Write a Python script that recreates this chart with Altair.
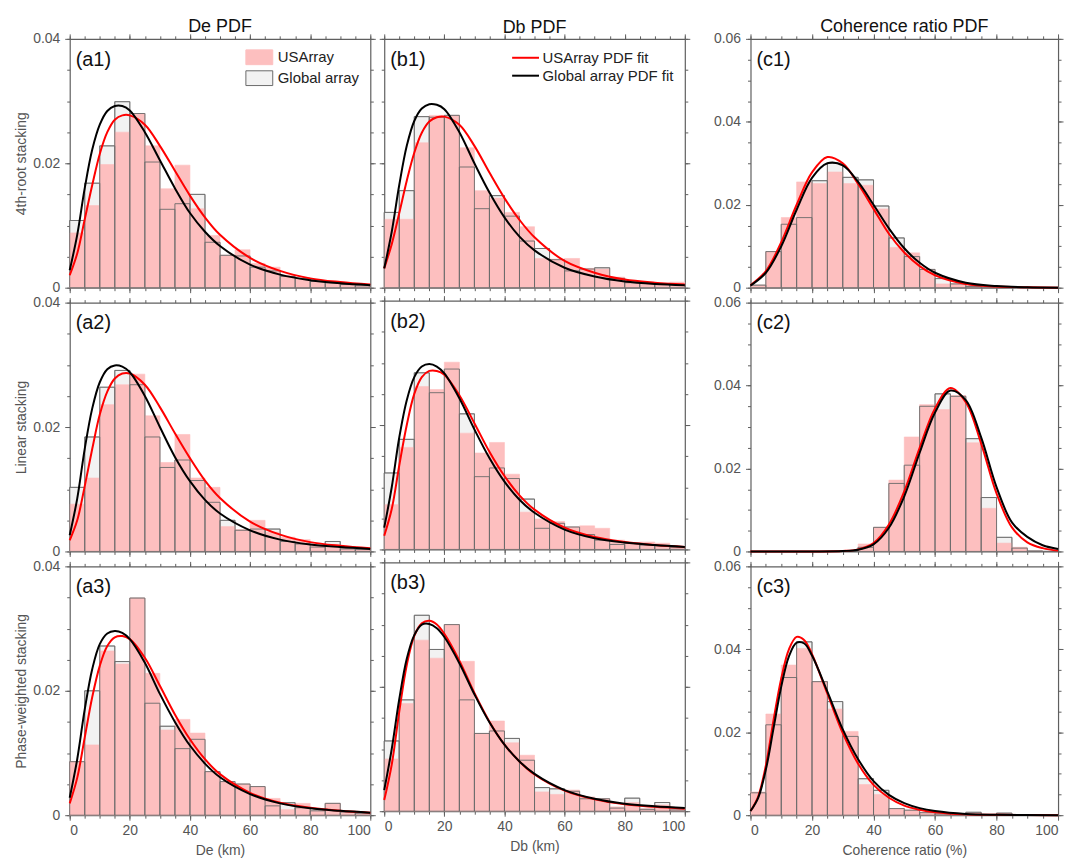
import altair as alt
import pandas as pd

# ---------------- data ----------------
BIN_EDGES = list(range(0, 105, 5))
SERIES_HIST = ["USArray", "Global array"]
SERIES_FIT = ["USArray PDF fit", "Global array PDF fit"]
COL_TITLES = ["De PDF", "Db PDF", "Coherence ratio PDF"]
X_TITLES = ["De (km)", "Db (km)", "Coherence ratio (%)"]
ROW_TITLES = ["4th-root stacking", "Linear stacking", "Phase-weighted stacking"]
PANEL_LABELS = [["(a1)", "(b1)", "(c1)"], ["(a2)", "(b2)", "(c2)"], ["(a3)", "(b3)", "(c3)"]]
X_MAJOR = [0, 20, 40, 60, 80, 100]
X_MINOR = list(range(0, 105, 5))
Y_MAJOR_AB = [0, 0.02, 0.04]
Y_MAJOR_C = [0, 0.02, 0.04, 0.06]
Y_MAX = [0.04, 0.04, 0.06]

# histograms (20 bins of width 5)
A1_US = [0.0088, 0.0132, 0.0198, 0.0250, 0.0280, 0.0228, 0.0159, 0.0197, 0.0127, 0.0084, 0.0052, 0.0061, 0.0039, 0.0033, 0.0020, 0.0015, 0.0011, 0.0008, 0.0006, 0.0004]
A1_GL = [0.0108, 0.0168, 0.0228, 0.0299, 0.0280, 0.0202, 0.0126, 0.0135, 0.0150, 0.0073, 0.0052, 0.0051, 0.0033, 0.0027, 0.0018, 0.0015, 0.0010, 0.0008, 0.0005, 0.0003]
B1_US = [0.0110, 0.0110, 0.0233, 0.0277, 0.0277, 0.0225, 0.0156, 0.0144, 0.0121, 0.0098, 0.0047, 0.0046, 0.0047, 0.0031, 0.0030, 0.0017, 0.0010, 0.0009, 0.0008, 0.0009]
B1_GL = [0.0121, 0.0156, 0.0275, 0.0274, 0.0277, 0.0194, 0.0127, 0.0148, 0.0115, 0.0075, 0.0063, 0.0045, 0.0027, 0.0030, 0.0032, 0.0015, 0.0008, 0.0007, 0.0006, 0.0005]
C1_US = [0.0006, 0.0087, 0.0169, 0.0255, 0.0251, 0.0279, 0.0251, 0.0247, 0.0190, 0.0097, 0.0084, 0.0044, 0.0009, 0.0009, 0.0003, 0.0002, 0.0001, 0.0001, 0.0001, 0.0001]
C1_GL = [0.0006, 0.0087, 0.0153, 0.0169, 0.0258, 0.0300, 0.0266, 0.0260, 0.0197, 0.0120, 0.0075, 0.0044, 0.0022, 0.0009, 0.0003, 0.0002, 0.0001, 0.0001, 0.0001, 0.0001]
A2_US = [0.0076, 0.0118, 0.0236, 0.0268, 0.0285, 0.0218, 0.0143, 0.0188, 0.0118, 0.0103, 0.0040, 0.0035, 0.0050, 0.0031, 0.0023, 0.0019, 0.0010, 0.0011, 0.0004, 0.0004]
A2_GL = [0.0103, 0.0184, 0.0264, 0.0291, 0.0268, 0.0184, 0.0135, 0.0147, 0.0114, 0.0079, 0.0050, 0.0034, 0.0036, 0.0036, 0.0016, 0.0012, 0.0007, 0.0016, 0.0004, 0.0003]
B2_US = [0.0072, 0.0164, 0.0262, 0.0257, 0.0301, 0.0187, 0.0155, 0.0172, 0.0121, 0.0060, 0.0049, 0.0045, 0.0036, 0.0038, 0.0034, 0.0015, 0.0010, 0.0012, 0.0010, 0.0004]
B2_GL = [0.0123, 0.0177, 0.0284, 0.0252, 0.0290, 0.0218, 0.0117, 0.0131, 0.0114, 0.0081, 0.0034, 0.0042, 0.0036, 0.0024, 0.0015, 0.0008, 0.0010, 0.0007, 0.0006, 0.0003]
C2_US = [0, 0, 0, 0, 0, 0, 0, 0.0018, 0.0058, 0.0172, 0.0276, 0.0354, 0.0342, 0.0376, 0.0262, 0.0104, 0.0020, 0.0010, 0.0001, 0]
C2_GL = [0, 0, 0, 0, 0, 0, 0, 0.0010, 0.0058, 0.0164, 0.0208, 0.0350, 0.0380, 0.0374, 0.0272, 0.0130, 0.0034, 0.0008, 0.0001, 0]
A3_US = [0.0086, 0.0113, 0.0264, 0.0243, 0.0349, 0.0228, 0.0137, 0.0154, 0.0132, 0.0070, 0.0054, 0.0050, 0.0046, 0.0027, 0.0009, 0.0019, 0.0007, 0.0019, 0.0007, 0.0004]
A3_GL = [0.0086, 0.0200, 0.0272, 0.0247, 0.0349, 0.0180, 0.0143, 0.0107, 0.0122, 0.0070, 0.0054, 0.0050, 0.0046, 0.0015, 0.0020, 0.0012, 0.0007, 0.0019, 0.0005, 0.0003]
B3_US = [0.0084, 0.0173, 0.0275, 0.0246, 0.0300, 0.0241, 0.0125, 0.0145, 0.0110, 0.0090, 0.0031, 0.0027, 0.0034, 0.0023, 0.0020, 0.0007, 0.0014, 0.0004, 0.0010, 0.0005]
B3_GL = [0.0113, 0.0179, 0.0315, 0.0260, 0.0300, 0.0179, 0.0125, 0.0129, 0.0117, 0.0082, 0.0038, 0.0036, 0.0032, 0.0020, 0.0020, 0.0005, 0.0021, 0.0003, 0.0014, 0.0002]
C3_US = [0.0056, 0.0244, 0.0362, 0.0402, 0.0322, 0.0256, 0.0202, 0.0074, 0.0050, 0.0016, 0.0012, 0.0006, 0.0003, 0.0003, 0.0005, 0.0001, 0.0003, 0.0001, 0.0001, 0.0000]
C3_GL = [0.0054, 0.0218, 0.0332, 0.0418, 0.0322, 0.0274, 0.0190, 0.0088, 0.0060, 0.0016, 0.0012, 0.0006, 0.0003, 0.0003, 0.0007, 0.0001, 0.0005, 0.0001, 0.0001, 0.0000]

# fitted PDF curves, sampled from the figure
FIT_X_AB = [0, 2.5, 5, 7.5, 10, 12.5, 15, 17.5, 20, 25, 30, 35, 40, 45, 50, 60, 70, 80, 90, 100]
A1_US_FIT = [0.0020, 0.0055, 0.0110, 0.0165, 0.0215, 0.0250, 0.0270, 0.0277, 0.0277, 0.0262, 0.0228, 0.0188, 0.0148, 0.0113, 0.0085, 0.0048, 0.0027, 0.0015, 0.0009, 0.0005]
A1_GL_FIT = [0.0028, 0.0085, 0.0160, 0.0222, 0.0262, 0.0284, 0.0292, 0.0292, 0.0285, 0.0250, 0.0205, 0.0160, 0.0120, 0.0090, 0.0067, 0.0037, 0.0021, 0.0012, 0.0007, 0.0004]
B1_US_FIT = [0.0031, 0.0070, 0.0120, 0.0172, 0.0217, 0.0249, 0.0267, 0.0274, 0.0275, 0.0262, 0.0228, 0.0185, 0.0144, 0.0109, 0.0081, 0.0043, 0.0024, 0.0013, 0.0008, 0.0005]
B1_GL_FIT = [0.0031, 0.0090, 0.0165, 0.0228, 0.0268, 0.0288, 0.0295, 0.0294, 0.0287, 0.0250, 0.0200, 0.0153, 0.0113, 0.0082, 0.0060, 0.0032, 0.0018, 0.0010, 0.0006, 0.0004]
A2_US_FIT = [0.0018, 0.0050, 0.0105, 0.0165, 0.0220, 0.0257, 0.0278, 0.0286, 0.0286, 0.0268, 0.0232, 0.0190, 0.0150, 0.0114, 0.0086, 0.0048, 0.0027, 0.0015, 0.0009, 0.0005]
A2_GL_FIT = [0.0026, 0.0085, 0.0165, 0.0230, 0.0272, 0.0293, 0.0299, 0.0297, 0.0288, 0.0250, 0.0200, 0.0152, 0.0113, 0.0083, 0.0061, 0.0034, 0.0019, 0.0011, 0.0007, 0.0004]
B2_US_FIT = [0.0022, 0.0065, 0.0135, 0.0200, 0.0250, 0.0277, 0.0287, 0.0287, 0.0281, 0.0248, 0.0203, 0.0157, 0.0118, 0.0087, 0.0064, 0.0035, 0.0020, 0.0012, 0.0007, 0.0004]
B2_GL_FIT = [0.0035, 0.0100, 0.0180, 0.0240, 0.0277, 0.0294, 0.0298, 0.0294, 0.0283, 0.0243, 0.0193, 0.0147, 0.0109, 0.0080, 0.0059, 0.0032, 0.0018, 0.0011, 0.0007, 0.0004]
A3_US_FIT = [0.0019, 0.0060, 0.0125, 0.0190, 0.0240, 0.0272, 0.0286, 0.0288, 0.0283, 0.0253, 0.0208, 0.0162, 0.0122, 0.0090, 0.0066, 0.0036, 0.0020, 0.0012, 0.0007, 0.0004]
A3_GL_FIT = [0.0028, 0.0090, 0.0170, 0.0235, 0.0275, 0.0292, 0.0296, 0.0293, 0.0283, 0.0245, 0.0195, 0.0150, 0.0112, 0.0083, 0.0061, 0.0034, 0.0019, 0.0011, 0.0007, 0.0004]
B3_US_FIT = [0.0018, 0.0075, 0.0160, 0.0235, 0.0282, 0.0302, 0.0306, 0.0300, 0.0285, 0.0242, 0.0190, 0.0144, 0.0107, 0.0080, 0.0059, 0.0033, 0.0019, 0.0011, 0.0007, 0.0004]
B3_GL_FIT = [0.0034, 0.0100, 0.0180, 0.0245, 0.0283, 0.0300, 0.0301, 0.0294, 0.0280, 0.0238, 0.0188, 0.0143, 0.0107, 0.0080, 0.0060, 0.0034, 0.0020, 0.0012, 0.0008, 0.0005]

FIT_X_C1 = [0, 5, 10, 15, 20, 25, 30, 35, 40, 45, 50, 55, 60, 70, 80, 90, 100]
C1_US_FIT = [0.0006, 0.0040, 0.0110, 0.0200, 0.0278, 0.0315, 0.0300, 0.0250, 0.0190, 0.0130, 0.0085, 0.0052, 0.0030, 0.0009, 0.0003, 0.0001, 0.0000]
C1_GL_FIT = [0.0005, 0.0036, 0.0100, 0.0188, 0.0265, 0.0300, 0.0295, 0.0255, 0.0200, 0.0143, 0.0095, 0.0060, 0.0036, 0.0012, 0.0004, 0.0001, 0.0000]
FIT_X_C2 = [0, 20, 30, 35, 40, 45, 50, 55, 60, 65, 70, 75, 80, 85, 90, 95, 100]
C2_US_FIT = [0.0000, 0.0000, 0.0001, 0.0005, 0.0020, 0.0065, 0.0145, 0.0250, 0.0345, 0.0394, 0.0360, 0.0260, 0.0140, 0.0058, 0.0022, 0.0008, 0.0002]
C2_GL_FIT = [0.0000, 0.0000, 0.0001, 0.0004, 0.0017, 0.0057, 0.0133, 0.0238, 0.0335, 0.0388, 0.0365, 0.0275, 0.0155, 0.0070, 0.0035, 0.0015, 0.0006]
FIT_X_C3 = [0, 2.5, 5, 7.5, 10, 12.5, 15, 17.5, 20, 25, 30, 35, 40, 45, 50, 55, 60, 70, 80, 100]
C3_US_FIT = [0.0010, 0.0045, 0.0120, 0.0230, 0.0330, 0.0400, 0.0430, 0.0422, 0.0388, 0.0293, 0.0198, 0.0124, 0.0073, 0.0042, 0.0023, 0.0013, 0.0007, 0.0002, 0.0001, 0.0000]
C3_GL_FIT = [0.0010, 0.0042, 0.0110, 0.0210, 0.0310, 0.0383, 0.0416, 0.0414, 0.0385, 0.0298, 0.0207, 0.0135, 0.0082, 0.0049, 0.0029, 0.0017, 0.0010, 0.0003, 0.0001, 0.0000]

HIST = [[(A1_US, A1_GL), (B1_US, B1_GL), (C1_US, C1_GL)],
        [(A2_US, A2_GL), (B2_US, B2_GL), (C2_US, C2_GL)],
        [(A3_US, A3_GL), (B3_US, B3_GL), (C3_US, C3_GL)]]
FITS = [[(FIT_X_AB, A1_US_FIT, A1_GL_FIT), (FIT_X_AB, B1_US_FIT, B1_GL_FIT), (FIT_X_C1, C1_US_FIT, C1_GL_FIT)],
        [(FIT_X_AB, A2_US_FIT, A2_GL_FIT), (FIT_X_AB, B2_US_FIT, B2_GL_FIT), (FIT_X_C2, C2_US_FIT, C2_GL_FIT)],
        [(FIT_X_AB, A3_US_FIT, A3_GL_FIT), (FIT_X_AB, B3_US_FIT, B3_GL_FIT), (FIT_X_C3, C3_US_FIT, C3_GL_FIT)]]

# ---------------- style ----------------
FONT = "Liberation Sans"
PINK = "#fdbfbf"
GL_FILL = "#f2f2f2"
GL_STROKE = "#6a6a6a"
AX = "#5f5f5f"
WIDTHS = [302, 302, 309]
HEIGHT = 250


def panel(row, col):
    us, gl = HIST[row][col]
    fx, us_fit, gl_fit = FITS[row][col]
    ymax = Y_MAX[col]
    y_major = Y_MAJOR_C if col == 2 else Y_MAJOR_AB
    y_minor = [round(i * 0.005, 3) for i in range(int(round(ymax / 0.005)) + 1)]
    bottom = row == 2
    ylabels = col != 1

    rows = []
    for s, vals in (("Global array", gl), ("USArray", us)):
        for i, v in enumerate(vals):
            rows.append({"x0": BIN_EDGES[i], "x1": BIN_EDGES[i + 1], "v": v, "base": 0.0, "series": s})
    bars = pd.DataFrame(rows)
    glbars = bars[bars.series == "Global array"]

    crow = []
    for s, vals in (("USArray PDF fit", us_fit), ("Global array PDF fit", gl_fit)):
        for x, v in zip(fx, vals):
            crow.append({"x": x, "v": v, "series": s})
    curves = pd.DataFrame(crow)

    lab = pd.DataFrame({"x": [0], "y": [ymax], "label": [PANEL_LABELS[row][col]]})

    xs = alt.Scale(domain=[0, 100], nice=False, zero=False)
    ys = alt.Scale(domain=[0, ymax], nice=False, zero=True)

    ax_xb = alt.Axis(orient="bottom", values=X_MAJOR, tickSize=5, labels=bottom, format="d",
                     title=X_TITLES[col] if bottom else None, labelPadding=3, titlePadding=6)
    ax_xb_min = alt.Axis(orient="bottom", values=X_MINOR, tickSize=3, labels=False, domain=False, title=None)
    ax_xt = alt.Axis(orient="top", values=X_MAJOR, tickSize=5, labels=False, title=None)
    ax_xt_min = alt.Axis(orient="top", values=X_MINOR, tickSize=3, labels=False, domain=False, title=None)
    ax_yl = alt.Axis(orient="left", values=y_major, tickSize=5, labels=ylabels, format=".2~f",
                     title=ROW_TITLES[row] if col == 0 else None, labelPadding=5, titlePadding=4)
    ax_yl_min = alt.Axis(orient="left", values=y_minor, tickSize=3, labels=False, domain=False, title=None)
    ax_yr = alt.Axis(orient="right", values=y_major, tickSize=5, labels=False, title=None)
    ax_yr_min = alt.Axis(orient="right", values=y_minor, tickSize=3, labels=False, domain=False, title=None)

    show_bar_leg = (row == 0 and col == 0)
    show_fit_leg = (row == 0 and col == 1)
    bar_leg = alt.Legend(title=None, orient="top-right", offset=11, symbolType="M-2,-1.1H2V1.1H-2Z",
                         symbolSize=182, labelOffset=11, rowPadding=2, symbolStrokeWidth=1,
                         labelFontSize=15, labelColor="#222") if show_bar_leg else None
    fit_leg = alt.Legend(title=None, orient="top-right", offset=11, symbolType="M-2,0H2",
                         symbolSize=182, labelOffset=9, rowPadding=2, symbolStrokeWidth=2,
                         labelFontSize=15, labelColor="#222") if show_fit_leg else None

    fill_layer = alt.Chart(bars).mark_rect(strokeWidth=0.6).encode(
        x=alt.X("x0:Q", scale=xs, axis=ax_xb),
        x2="x1:Q",
        y=alt.Y("v:Q", scale=ys, axis=ax_yl),
        y2="base:Q",
        fill=alt.Fill("series:N", scale=alt.Scale(domain=SERIES_HIST, range=[PINK, GL_FILL]), legend=bar_leg),
        stroke=alt.Stroke("series:N", scale=alt.Scale(domain=SERIES_HIST, range=[PINK, GL_STROKE]), legend=bar_leg),
    )
    outline_layer = alt.Chart(glbars).mark_rect(fillOpacity=0, stroke=GL_STROKE, strokeWidth=0.9).encode(
        x=alt.X("x0:Q", scale=xs, axis=ax_xb_min),
        x2="x1:Q",
        y=alt.Y("v:Q", scale=ys, axis=ax_yl_min),
        y2="base:Q",
    )
    line_layer = alt.Chart(curves).mark_line(interpolate="catmull-rom", strokeWidth=2).encode(
        x=alt.X("x:Q", scale=xs, axis=ax_xt),
        y=alt.Y("v:Q", scale=ys, axis=ax_yr),
        stroke=alt.Stroke("series:N", scale=alt.Scale(domain=SERIES_FIT, range=["#ff0000", "#000000"]), legend=fit_leg),
        order=alt.Order("x:Q"),
    )
    text_layer = alt.Chart(lab).mark_text(align="left", baseline="top", dx=6, dy=11, fontSize=20,
                                          font=FONT, color="#111").encode(
        x=alt.X("x:Q", scale=xs, axis=ax_xt_min),
        y=alt.Y("y:Q", scale=ys, axis=ax_yr_min),
        text="label:N",
    )
    ch = alt.layer(fill_layer, outline_layer, line_layer, text_layer).resolve_axis(
        x="independent", y="independent").resolve_scale(stroke="independent", fill="independent").resolve_legend(
        stroke="independent", fill="independent")
    props = dict(width=WIDTHS[col], height=HEIGHT)
    if row == 0:
        props["title"] = alt.TitleParams(COL_TITLES[col], fontSize=18, fontWeight="normal", font=FONT,
                                         color="#111", anchor="middle", offset=-4)
    return ch.properties(**props)


def res(c):
    return c.resolve_scale(fill="independent", stroke="independent").resolve_legend(
        fill="independent", stroke="independent")


cols = [res(alt.vconcat(*[panel(r, c) for r in range(3)], spacing=1)) for c in range(3)]
ab = res(alt.hconcat(cols[0], cols[1], spacing=2))
chart = res(alt.hconcat(ab, cols[2], spacing=22)).properties(
    padding={"left": 6, "top": 8, "right": 4, "bottom": 0}
).configure_view(strokeWidth=0).configure_axis(
    grid=False, domainColor=AX, domainWidth=1.2, tickColor=AX, tickWidth=1,
    labelColor="#555", labelFont=FONT, labelFontSize=14,
    titleColor="#555", titleFont=FONT, titleFontSize=14, titleFontWeight="normal",
).configure_legend(labelFont=FONT, labelFontSize=15, labelColor="#222").configure_title(font=FONT)

chart.save("out.html", embed_options={"renderer": "svg", "actions": False})
